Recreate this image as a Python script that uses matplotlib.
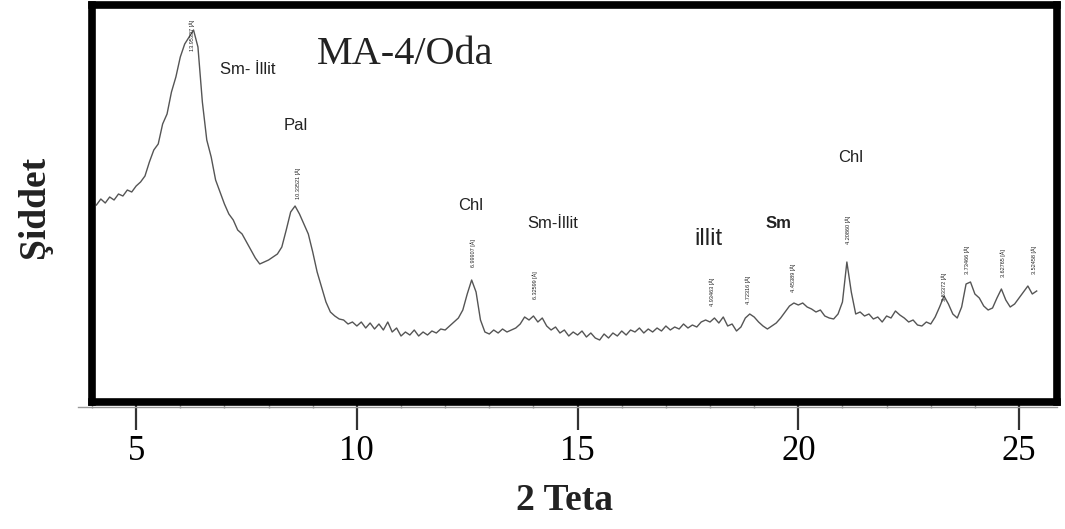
import matplotlib

matplotlib.use("Agg")
import matplotlib.pyplot as plt
from matplotlib.lines import Line2D
from matplotlib.ticker import MultipleLocator

# 2 teta tarama (adim 0.1) ve siddet (keyfi birim)
two_theta = [
    4.1, 4.2, 4.3, 4.4, 4.5, 4.6, 4.7, 4.8, 4.9, 5.0,
    5.1, 5.2, 5.3, 5.4, 5.5, 5.6, 5.7, 5.8, 5.9, 6.0,
    6.1, 6.2, 6.3, 6.4, 6.5, 6.6, 6.7, 6.8, 6.9, 7.0,
    7.1, 7.2, 7.3, 7.4, 7.5, 7.6, 7.7, 7.8, 7.9, 8.0,
    8.1, 8.2, 8.3, 8.4, 8.5, 8.6, 8.7, 8.8, 8.9, 9.0,
    9.1, 9.2, 9.3, 9.4, 9.5, 9.6, 9.7, 9.8, 9.9, 10.0,
    10.1, 10.2, 10.3, 10.4, 10.5, 10.6, 10.7, 10.8, 10.9, 11.0,
    11.1, 11.2, 11.3, 11.4, 11.5, 11.6, 11.7, 11.8, 11.9, 12.0,
    12.1, 12.2, 12.3, 12.4, 12.5, 12.6, 12.7, 12.8, 12.9, 13.0,
    13.1, 13.2, 13.3, 13.4, 13.5, 13.6, 13.7, 13.8, 13.9, 14.0,
    14.1, 14.2, 14.3, 14.4, 14.5, 14.6, 14.7, 14.8, 14.9, 15.0,
    15.1, 15.2, 15.3, 15.4, 15.5, 15.6, 15.7, 15.8, 15.9, 16.0,
    16.1, 16.2, 16.3, 16.4, 16.5, 16.6, 16.7, 16.8, 16.9, 17.0,
    17.1, 17.2, 17.3, 17.4, 17.5, 17.6, 17.7, 17.8, 17.9, 18.0,
    18.1, 18.2, 18.3, 18.4, 18.5, 18.6, 18.7, 18.8, 18.9, 19.0,
    19.1, 19.2, 19.3, 19.4, 19.5, 19.6, 19.7, 19.8, 19.9, 20.0,
    20.1, 20.2, 20.3, 20.4, 20.5, 20.6, 20.7, 20.8, 20.9, 21.0,
    21.1, 21.2, 21.3, 21.4, 21.5, 21.6, 21.7, 21.8, 21.9, 22.0,
    22.1, 22.2, 22.3, 22.4, 22.5, 22.6, 22.7, 22.8, 22.9, 23.0,
    23.1, 23.2, 23.3, 23.4, 23.5, 23.6, 23.7, 23.8, 23.9, 24.0,
    24.1, 24.2, 24.3, 24.4, 24.5, 24.6, 24.7, 24.8, 24.9, 25.0,
    25.1, 25.2, 25.3, 25.4,
]
intensity = [
    197, 203, 199, 205, 202, 208, 206, 212, 210, 216,
    220, 226, 240, 252, 258, 278, 288, 310, 325, 345,
    358, 365, 372, 355, 300, 262, 245, 222, 210, 198,
    188, 182, 172, 168, 160, 152, 144, 138, 140, 142,
    145, 148, 155, 172, 190, 196, 188, 178, 168, 150,
    130, 115, 100, 90, 86, 83, 82, 78, 80, 76,
    80, 74, 79, 73, 78, 72, 80, 70, 74, 66,
    70, 67, 72, 66, 70, 67, 71, 69, 73, 72,
    76, 80, 84, 92, 108, 122, 110, 82, 70, 68,
    72, 69, 73, 70, 72, 74, 78, 85, 82, 86,
    80, 84, 76, 72, 75, 69, 72, 66, 70, 67,
    71, 65, 69, 64, 62, 68, 64, 69, 66, 71,
    67, 72, 70, 74, 69, 73, 70, 74, 71, 76,
    72, 75, 73, 78, 74, 77, 75, 80, 82, 80,
    84, 79, 85, 76, 78, 71, 75, 84, 88, 85,
    80, 76, 73, 76, 79, 84, 90, 96, 99, 97,
    99, 95, 93, 90, 92, 86, 84, 83, 88, 100,
    140, 110, 88, 90, 86, 88, 83, 85, 80, 86,
    84, 91, 87, 84, 80, 82, 77, 76, 80, 78,
    85, 95, 106, 98, 88, 84, 95, 118, 120, 108,
    104, 96, 92, 94, 104, 113, 102, 95, 98, 104,
    110, 116, 108, 111,
]

# pik ustundeki d-degerleri
d_pos = [6.27, 8.67, 12.63, 14.03, 18.04, 18.86, 19.88, 21.12, 23.30, 23.82, 24.63, 25.34]
d_base = [351, 203, 135, 103, 96, 98, 110, 158, 101, 128, 125, 128]
d_text = [
    "13.95337 [Å]", "10.33521 [Å]", "6.99907 [Å]", "6.32599 [Å]",
    "4.93463 [Å]", "4.72316 [Å]", "4.45389 [Å]", "4.20860 [Å]",
    "3.83372 [Å]", "3.73466 [Å]", "3.62765 [Å]", "3.52458 [Å]",
]

# mineral adlari
min_text = ["Sm- İllit", "Pal", "Chl", "Sm-İllit", "illit", "Sm", "Chl"]
min_x = [6.9, 8.62, 12.58, 14.44, 17.97, 19.54, 21.19]
min_y = [333, 276, 196, 178, 163, 178, 245]
min_size = [12, 12, 12, 12, 17, 12, 12]
min_weight = ["normal", "normal", "normal", "normal", "normal", "bold", "normal"]
min_ha = ["left", "center", "center", "center", "center", "center", "center"]

x_ticks = [5, 10, 15, 20, 25]
SERIF = ["Liberation Serif", "DejaVu Serif"]
SANS = ["Liberation Sans", "DejaVu Sans"]


def main():
    fig = plt.figure(figsize=(10.65, 5.29), dpi=100)
    ax = fig.add_axes([92 / 1065, 1 - 402 / 529, 965 / 1065, 397 / 529])

    ax.plot(two_theta, intensity, color="#555555", lw=1.0)
    ax.set_xlim(4.0, 25.86)
    ax.set_ylim(0, 397)

    for s in ax.spines.values():
        s.set_linewidth(5.5)
        s.set_color("black")

    ax.set_yticks([])
    ax.set_xticks(x_ticks)
    ax.xaxis.set_minor_locator(MultipleLocator(1))
    ax.tick_params(axis="x", which="major", direction="out", length=20, width=1.6,
                   color="#333333", pad=4)
    ax.tick_params(axis="x", which="minor", direction="out", length=4, width=1.0,
                   color="#999999")
    for lab in ax.get_xticklabels():
        lab.set_fontfamily(SERIF)
        lab.set_fontsize(25)

    # ince gri eksen cizgisi (cercevenin hemen alti)
    ax.add_line(Line2D([-0.015, 1.0], [-0.013, -0.013], transform=ax.transAxes,
                       color="#999999", lw=1.0, clip_on=False))

    for x, y, t in zip(d_pos, d_base, d_text):
        ax.text(x, y, t, rotation=90, ha="center", va="bottom", fontsize=4,
                family=SANS, color="#222222")

    for t, x, y, sz, w, ha in zip(min_text, min_x, min_y, min_size, min_weight, min_ha):
        ax.text(x, y, t, ha=ha, va="center", fontsize=sz, fontweight=w,
                family=SANS, color="#222222")

    fig.text(405 / 1065, 1 - 55 / 529, "MA-4/Oda", ha="center", va="center",
             fontsize=29, family=SERIF, color="#222222")
    fig.text(565 / 1065, 1 - 500 / 529, "2 Teta", ha="center", va="center",
             fontsize=27, fontweight="bold", family=SERIF, color="#222222")
    fig.text(35 / 1065, 1 - 207 / 529, "Şiddet", ha="center", va="center",
             rotation=90, fontsize=27, fontweight="bold", family=SERIF, color="#222222")

    fig.savefig("out.png", dpi=100)


if __name__ == "__main__":
    main()
